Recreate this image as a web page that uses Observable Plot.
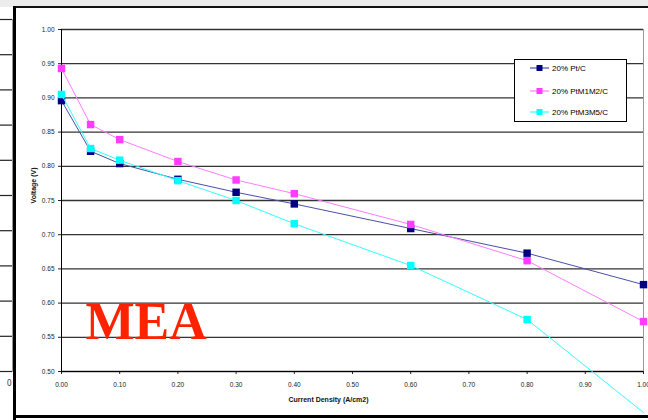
<!DOCTYPE html>
<html>
<head>
<meta charset="utf-8">
<script src="https://cdn.jsdelivr.net/npm/d3@7"></script>
<script src="https://cdn.jsdelivr.net/npm/@observablehq/plot@0.6"></script>
<style>
  html, body { margin: 0; padding: 0; background: #fff; }
  #wrap { position: relative; width: 648px; height: 420px; overflow: hidden; background: #fff; font-family: "Liberation Sans", Arial, sans-serif; }
  .abs { position: absolute; }
  #legend { position: absolute; left: 514px; top: 59px; width: 111px; height: 61px; border: 1px solid #000; background: #fff; }
  .item { position: absolute; left: 0; height: 10px; display: flex; align-items: center; font-size: 8px; color: #000; white-space: nowrap; }
  .item svg { margin-left: 15px; margin-right: 3px; }
</style>
</head>
<body>
<div id="wrap">
  <div class="abs" style="left:0;top:0;width:648px;height:7px;background:#ececec"></div>
  <div id="leftchart" class="abs" style="left:0;top:0"></div>
  <div id="main" class="abs" style="left:16px;top:9px"></div>
  <div class="abs" style="left:13px;top:6px;width:635px;height:2px;background:#111"></div>
  <div class="abs" style="left:13px;top:6px;width:3px;height:414px;background:#000"></div>
  <div class="abs" style="left:13px;top:415px;width:635px;height:3px;background:#000"></div>
  <div id="legend"></div>
</div>
<script>
// ---- data ----
const currentDensity = [0, 0.05, 0.1, 0.2, 0.3, 0.4, 0.6, 0.8, 1.0];
const ptC    = [0.896, 0.822, 0.804, 0.781, 0.762, 0.745, 0.709, 0.673, 0.627];
const ptM1M2 = [0.943, 0.861, 0.839, 0.807, 0.780, 0.760, 0.715, 0.662, 0.573];
const ptM3M5 = [0.905, 0.826, 0.809, 0.779, 0.750, 0.716, 0.655, 0.576, 0.440];
const seriesNames = ["20% Pt/C", "20% PtM1M2/C", "20% PtM3M5/C"];
const xTicks = [0, 0.1, 0.2, 0.3, 0.4, 0.5, 0.6, 0.7, 0.8, 0.9, 1.0];
const yTicks = [0.5, 0.55, 0.6, 0.65, 0.7, 0.75, 0.8, 0.85, 0.9, 0.95, 1.0];
const leftGrid = [0, 1, 2, 3, 4, 5, 6, 7, 8, 9, 10];

const lineColors = ["#4b4fa6", "#ff7cff", "#33ffff"];
const markColors = ["#000080", "#ff3cff", "#00ffff"];
const fmt = d3.format(".2f");

const seriesValues = [ptC, ptM1M2, ptM3M5];
const tables = seriesValues.map((vals, i) =>
  currentDensity.map((x, j) => ({x, v: vals[j], s: seriesNames[i]})));

// ---- partial neighbouring chart on the left ----
const left = Plot.plot({
  width: 13, height: 420,
  marginLeft: 0, marginRight: 1, marginTop: 19, marginBottom: 49,
  x: {domain: [0, 1], axis: null},
  y: {domain: [0, 10], axis: null},
  style: {background: "transparent", overflow: "visible"},
  marks: [
    Plot.ruleY(leftGrid, {stroke: "#222", strokeWidth: 1.2}),
    Plot.frame({anchor: "right", stroke: "#999"}),
    Plot.text(["0"], {frameAnchor: "bottom-right", dx: -1, dy: 14, fontSize: 8, fill: "#333"})
  ]
});
document.getElementById("leftchart").appendChild(left);

// ---- main chart ----
const marks = [
  Plot.ruleY(yTicks, {stroke: "#333", strokeWidth: 1.3}),
  Plot.ruleX([1], {stroke: "#999", strokeWidth: 1}),
  Plot.axisY({ticks: yTicks, tickFormat: fmt, tickSize: 3, tickPadding: 4, label: null, fontSize: 6.5, color: "#222"}),
  Plot.axisX({ticks: xTicks, tickFormat: fmt, tickSize: 3, tickPadding: 8, label: null, fontSize: 6.5, color: "#222"}),
  Plot.ruleX([0], {stroke: "#000", strokeWidth: 1}),
  Plot.ruleY([0.5], {stroke: "#000", strokeWidth: 1}),
  Plot.text(["MEA"], {frameAnchor: "bottom-left", dx: 24, dy: -33, lineAnchor: "bottom", textAnchor: "start",
    fontSize: 52, fontWeight: "bold", fontFamily: "Liberation Serif, Times New Roman, serif", fill: "#ff2200"}),
  Plot.text(["Current Density (A/cm2)"], {frameAnchor: "bottom", dx: -24, dy: 30, fontSize: 7, fontWeight: "bold", fill: "#111"}),
  Plot.text(["Voltage (V)"], {frameAnchor: "left", dx: -28, dy: 3, rotate: -90, fontSize: 7, fontWeight: "bold", fill: "#111"})
];
tables.forEach((t, i) => {
  marks.push(Plot.line(t, {x: "x", y: "v", stroke: lineColors[i], strokeWidth: 1}));
  marks.push(Plot.dot(t.filter(d => d.v >= 0.5), {x: "x", y: "v", symbol: "square", r: 4.2, fill: markColors[i], stroke: "none"}));
});

const chart = Plot.plot({
  width: 632, height: 406,
  marginLeft: 45, marginRight: 5, marginTop: 20, marginBottom: 44,
  x: {domain: [0, 1]},
  y: {domain: [0.5, 1]},
  style: {fontFamily: "Liberation Sans, Arial, sans-serif", fontSize: "6.5px", background: "#fff", overflow: "visible"},
  marks
});
document.getElementById("main").appendChild(chart);

// ---- legend ----
const legend = document.getElementById("legend");
const rowTops = [3, 26, 47];
seriesNames.forEach((name, i) => {
  const item = document.createElement("div");
  item.className = "item";
  item.style.top = rowTops[i] + "px";
  item.innerHTML = `<svg width="19" height="8"><line x1="0" y1="4" x2="19" y2="4" stroke="${lineColors[i]}" stroke-width="1.2"/><rect x="6.5" y="1" width="6" height="6" fill="${markColors[i]}"/></svg><span>${name}</span>`;
  legend.appendChild(item);
});
</script>
</body>
</html>
